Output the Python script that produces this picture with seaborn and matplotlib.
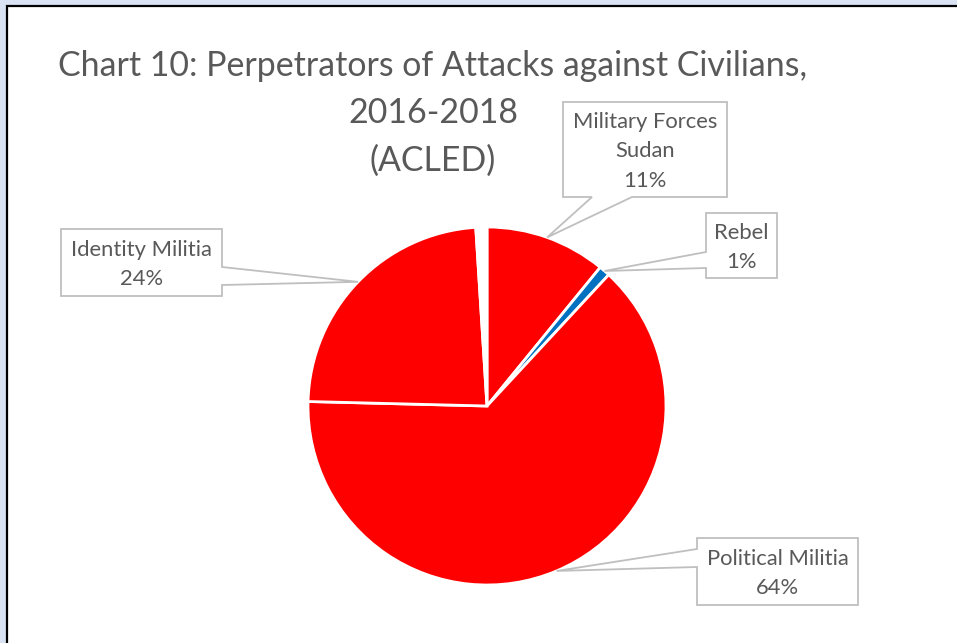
import numpy as np
import matplotlib
matplotlib.use("Agg")
import matplotlib.pyplot as plt
from matplotlib.patches import Polygon, Rectangle
import seaborn as sns

# ---------------- data ----------------
categories = ["Military Forces\nSudan", "Rebel", "Political Militia", "Identity Militia", ""]
values = [10.9, 1.0, 63.5, 23.6, 1.0]
colors = ["#FF0000", "#0070C0", "#FF0000", "#FF0000", "#FFFFFF"]
title_lines = ["Chart 10: Perpetrators of Attacks against Civilians,", "2016-2018", "(ACLED)"]

# ---------------- layout ----------------
W, H, DPI = 957, 643, 100
sns.set_theme(style="white")
plt.rcParams["font.family"] = ["Lato", "DejaVu Sans"]
TXT = "#595959"
EDGE = "#BFBFBF"

fig = plt.figure(figsize=(W / DPI, H / DPI), dpi=DPI)
fig.patch.set_facecolor("#DAE3F3")

def ff(x, y):
    return (x / W, 1 - y / H)

# chart area frame
fig.add_artist(Rectangle(ff(6.5, H + 20), 1.2, (H + 20 - 5.5) / H,
                         transform=fig.transFigure, fc="white", ec="black",
                         lw=1.6, zorder=-5))

# pie
cx, cy, R = 487, 406, 179
ax = fig.add_axes([(cx - R) / W, 1 - (cy + R) / H, 2 * R / W, 2 * R / H])
wedges, _ = ax.pie(values, colors=colors, startangle=90, counterclock=False,
                   wedgeprops=dict(edgecolor="white", linewidth=2))
ax.set_xlim(-1, 1)
ax.set_ylim(-1, 1)

# title
for line, base in zip(title_lines, [76, 123, 171]):
    fig.text(*ff(433, base), line, ha="center", va="baseline",
             fontsize=24.4, color=TXT)

# callouts: box (x0,y0,x1,y1) in image px, edge, base span
callouts = {
    0: ((563, 102, 727, 197), "bottom", (592, 632)),
    1: ((706, 213, 777, 278), "left", (252, 268)),
    2: ((697, 538, 858, 605), "left", (549, 567)),
    3: ((61, 229, 222, 296), "right", (267, 285)),
}
PITCH = 29.5
for i, (box, edge, (a, b)) in callouts.items():
    w = wedges[i]
    mid = np.deg2rad((w.theta1 + w.theta2) / 2)
    dx, dy = ax.transData.transform((np.cos(mid), np.sin(mid)))
    tx, ty = dx, H - dy
    x0, y0, x1, y1 = box
    if edge == "bottom":
        pts = [(x0, y0), (x1, y0), (x1, y1), (b, y1), (tx, ty), (a, y1), (x0, y1)]
    elif edge == "left":
        pts = [(x0, y0), (x1, y0), (x1, y1), (x0, y1), (x0, b), (tx, ty), (x0, a)]
    else:
        pts = [(x0, y0), (x1, y0), (x1, a), (tx, ty), (x1, b), (x1, y1), (x0, y1)]
    fig.add_artist(Polygon([ff(*p) for p in pts], closed=True,
                           transform=fig.transFigure, fc="white", ec=EDGE,
                           lw=1.3, zorder=2))
    lines = categories[i].split("\n") + [f"{round(values[i])}%"]
    n = len(lines)
    ccx, ccy = (x0 + x1) / 2, (y0 + y1) / 2
    for k, ln in enumerate(lines):
        yy = ccy + (k - (n - 1) / 2) * PITCH
        fig.text(*ff(ccx, yy), ln, ha="center", va="center_baseline",
                 fontsize=15.8, color=TXT, zorder=3)

fig.savefig("out.png", dpi=DPI, facecolor=fig.get_facecolor())
